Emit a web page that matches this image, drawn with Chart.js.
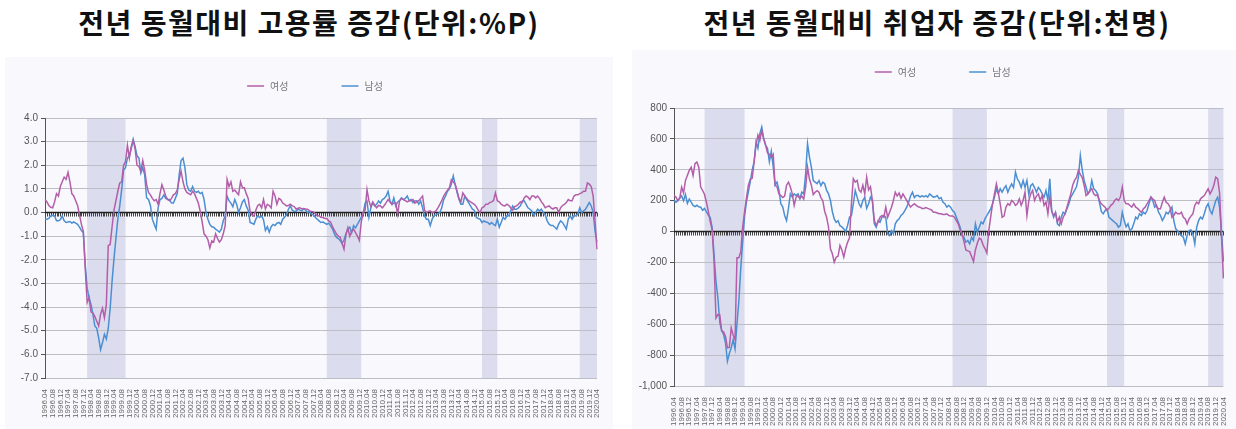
<!DOCTYPE html>
<html>
<head>
<meta charset="utf-8">
<script src="https://cdn.jsdelivr.net/npm/chart.js@4.4.0/dist/chart.umd.min.js"></script>
<style>
  body { margin: 0; width: 1236px; height: 429px; background: #fff; position: relative; overflow: hidden; }
  .title { position: absolute; top: 2px; font-family: "Noto Sans CJK KR", sans-serif; font-weight: bold; font-size: 28px; letter-spacing: 1.5px; color: #111; white-space: nowrap; transform: translateX(-50%); }
  .panel { position: absolute; background: #f9f9fd; }
</style>
</head>
<body>
<div class="title" style="left:309px">전년 동월대비 고용률 증감(단위:%P)</div>
<div class="title" style="left:937px">전년 동월대비 취업자 증감(단위:천명)</div>
<div class="panel" style="left:5px;top:57px;width:608px;height:372px"><canvas id="rateChart"></canvas></div>
<div class="panel" style="left:632px;top:50px;width:604px;height:379px"><canvas id="jobsChart"></canvas></div>
<script>
// months 1996.04 ~ 2020.04
var months = [];
for (var yr = 1996; yr <= 2020; yr++) {
    for (var mo = 1; mo <= 12; mo++) {
        if ((yr == 1996 && mo < 4) || (yr == 2020 && mo > 4)) continue;
        months.push(yr + '.' + (mo < 10 ? '0' + mo : mo));
    }
}
var seriesNames = ['여성', '남성'];

// 고용률 증감 (%P)
var rateWomen = [
    0.55, 0.45, 0.3, 0.22, 0.2, 0.45, 0.8, 0.7, 1.1,
    1.3, 1.5, 1.4, 1.7, 1.3, 0.8, 0.7, 0.5, 0.3, -0.1, -0.5, -0.8,
    -2.4, -3.8, -3.6, -4.2, -4.25, -4.4, -4.6, -4.8, -4.3, -4.05, -4.45, -3.9,
    -1.4, -1.35, -0.6, 0.1, 0.5, 0.9, 1.25, 1.3, 2.0, 2.15, 2.85, 2.3,
    2.8, 3.05, 2.7, 2.0, 1.95, 1.75, 2.2, 1.8, 1.2, 0.85, 0.75, 0.6,
    0.5, 0.55, 0.35, 0.8, 1.18, 0.95, 0.7, 0.55, 0.5, 0.6, 0.75, 0.8,
    0.95, 1.4, 1.75, 1.3, 1.0, 0.85, 0.8, 0.75, 0.9, 0.8, 0.6, 0.4,
    0.05, -0.4, -0.9, -1.0, -1.15, -1.5, -1.2, -1.25, -0.9, -1.1, -1.25, -1.15,
    -0.9, -0.55, 1.4, 1.1, 1.3, 0.9, 0.95, 0.85, 0.75, 1.3, 1.05, 1.05,
    0.8, 0.6, 0.05, -0.1, -0.15, 0.1, 0.3, 0.35, 0.2, 0.55, 0.15, 0.35,
    0.3, 0.2, 0.9, 0.7, 0.35, 0.6, 0.55, 0.4, 0.35, 0.28, 0.3, 0.35,
    0.28, 0.25, 0.15, 0.18, 0.2, 0.15, 0.17, 0.15, 0.14, 0.07, 0.05, 0.03,
    -0.05, -0.14, -0.14, -0.2, -0.21, -0.25, -0.25, -0.35, -0.4, -0.6, -0.75, -0.9,
    -1.0, -1.05, -1.3, -1.55, -0.95, -0.65, -1.0, -0.8, -0.7, -0.85, -1.0, -1.18,
    -0.4, 0.0, 0.1, 0.97, 0.5, 0.25, 0.45, 0.3, 0.2, 0.3, 0.28, 0.2,
    0.3, 0.42, 0.55, 0.45, 0.35, 0.4, 0.4, -0.07, 0.5, 0.6, 0.55, 0.5,
    0.45, 0.5, 0.5, 0.55, 0.4, 0.45, 0.5, 0.6, 0.7, 0.1, 0.0, 0.05,
    0.07, 0.0, 0.03, 0.07, 0.2, 0.35, 0.5, 0.7, 0.83, 0.95, 1.05, 1.39,
    1.3, 1.2, 0.9, 0.6, 0.45, 0.83, 0.7, 0.6, 0.5, 0.45, 0.4, 0.35,
    0.25, 0.1, 0.0, 0.2, 0.25, 0.35, 0.35, 0.42, 0.45, 0.5, 0.83, 0.5,
    0.45, 0.35, 0.3, 0.28, 0.35, 0.3, 0.2, 0.1, 0.25, 0.28, 0.35, 0.45,
    0.42, 0.62, 0.7, 0.65, 0.55, 0.7, 0.7, 0.62, 0.7, 0.6, 0.45, 0.35,
    0.2, 0.25, 0.28, 0.2, 0.15, 0.2, 0.2, 0.0, 0.2, 0.3, 0.35, 0.42,
    0.55, 0.5, 0.5, 0.7, 0.75, 0.75, 0.8, 0.83, 0.9, 0.9, 1.25, 1.2,
    1.1, 0.7, -0.4, -1.55
];
var rateMen = [
    -0.28, -0.28, -0.25, -0.14, -0.12, -0.14, -0.35, -0.35, -0.3,
    -0.15, -0.35, -0.42, -0.4, -0.38, -0.45, -0.4, -0.45, -0.5, -0.62, -0.76, -0.85,
    -2.2, -3.2, -3.6, -3.9, -4.3, -4.8, -4.9, -5.3, -5.8, -5.5, -5.15, -5.35,
    -4.9, -4.05, -2.9, -1.95, -1.1, -0.28, 0.28, 0.97, 1.8, 1.9, 2.3, 2.4,
    2.7, 3.1, 2.8, 2.4, 2.3, 1.67, 1.9, 1.6, 0.62, 0.55, 0.3, -0.28,
    -0.5, -0.7, 0.2, 0.55, 0.6, 0.75, 0.6, 0.55, 0.55, 0.4, 0.4, 0.6,
    0.8, 1.6, 2.2, 2.3, 1.9, 1.18, 0.95, 0.9, 1.1, 0.9, 0.85, 0.9,
    0.8, 0.85, 0.55, 0.0, -0.28, -0.5, -0.6, -0.62, -0.7, -0.76, -0.83, -0.7,
    -0.35, -0.15, 0.7, 0.5, 0.4, 0.25, 0.55, 0.35, 0.0, 0.2, 0.45, 0.55,
    0.28, 0.1, -0.42, -0.45, -0.5, -0.28, -0.14, -0.2, -0.14, -0.3, -0.76, -0.6,
    -0.83, -0.6, -0.5, -0.55, -0.45, -0.42, -0.5, -0.28, -0.2, -0.1, 0.14, 0.28,
    0.1, 0.05, 0.05, 0.14, 0.1, 0.07, 0.16, 0.1, 0.0, 0.05, -0.07, -0.1,
    -0.2, -0.28, -0.35, -0.42, -0.4, -0.45, -0.5, -0.45, -0.55, -0.7, -0.9, -1.04,
    -1.1, -1.18, -1.32, -1.15, -0.9, -0.7, -0.62, -0.85, -0.55, -0.65, -0.5, -0.35,
    -0.2, -0.05, 0.4, 0.49, -0.2, 0.2, 0.42, 0.28, 0.35, 0.49, 0.4, 0.55,
    0.6, 0.7, 0.9, 0.49, 0.35, 0.62, 0.28, 0.45, 0.5, 0.62, 0.55, 0.6,
    0.7, 0.5, 0.55, 0.42, 0.49, 0.5, 0.35, 0.49, 0.2, -0.14, -0.28, -0.28,
    -0.55, -0.28, -0.14, -0.1, -0.05, 0.0, 0.2, 0.55, 0.7, 0.9, 1.0, 1.2,
    1.55, 1.18, 0.85, 0.55, 0.35, 0.35, 0.7, 0.55, 0.42, 0.28, 0.14, 0.1,
    -0.2, -0.25, -0.28, -0.42, -0.35, -0.4, -0.42, -0.5, -0.42, -0.5, -0.55, -0.28,
    -0.62, -0.42, -0.2, -0.28, -0.14, -0.14, 0.07, 0.28, 0.14, 0.14, 0.2, 0.28,
    0.49, 0.5, 0.35, 0.2, 0.14, 0.07, -0.14, 0.0, 0.14, 0.07, 0.14, 0.0,
    -0.1, -0.35, -0.49, -0.55, -0.55, -0.62, -0.7, -0.49, -0.35, -0.42, -0.55, -0.7,
    -0.28, -0.14, -0.28, -0.14, -0.14, -0.07, 0.2, 0.0, 0.07, 0.14, 0.28, 0.42,
    0.28, 0.0, -0.8, -1.25
];

// 취업자 증감 (천명)
var jobsWomen = [
    233, 223, 201, 215, 288, 250, 330, 363, 396,
    417, 363, 440, 450, 417, 288, 266, 240, 190, 130, 65, 10,
    -194, -560, -538, -540, -645, -650, -680, -753, -750, -624, -670, -700,
    -170, -170, -130, 30, 130, 220, 300, 340, 345, 452, 560, 624,
    590, 656, 600, 560, 510, 500, 480, 500, 300, 290, 244, 233,
    220, 230, 300, 320, 288, 244, 169, 223, 233, 215, 230, 210,
    288, 417, 340, 300, 240, 255, 265, 255, 220, 200, 130, 93,
    28, -112, -144, -198, -166, -160, -90, -120, -166, -110, -70, -40,
    180, 342, 320, 331, 270, 255, 300, 244, 352, 270, 290, 200,
    71, 40, 60, 93, 104, 93, 158, 93, 125, 158, 201, 255,
    230, 250, 215, 244, 223, 201, 180, 158, 170, 180, 170, 160,
    158, 150, 150, 155, 150, 145, 140, 125, 125, 120, 115, 115,
    110, 110, 115, 105, 100, 100, 93, 70, 50, 10, -15, -65,
    -119, -125, -130, -162, -195, -119, -76, -43, -50, -86, -110, -140,
    6, 93, 180, 244, 309, 250, 180, 93, 100, 158, 180, 170,
    201, 190, 170, 180, 212, 170, 201, 255, 104, 200, 244, 266,
    201, 230, 244, 201, 235, 169, 190, 115, 223, 130, 104, 120,
    61, 93, 50, 93, 115, 158, 201, 244, 300, 331, 350, 396,
    370, 350, 300, 233, 245, 266, 277, 244, 233, 240, 201, 180,
    169, 158, 136, 150, 170, 180, 201, 212, 201, 223, 288, 201,
    180, 180, 169, 158, 180, 158, 150, 136, 125, 147, 158, 180,
    201, 223, 210, 201, 158, 147, 147, 190, 223, 190, 180, 158,
    93, 104, 125, 115, 115, 125, 93, 82, 50, 82, 100, 115,
    169, 190, 180, 212, 223, 233, 255, 277, 244, 266, 300, 352,
    341, 250, -30, -303
];
var jobsMen = [
    200, 190, 200, 219, 231, 200, 240, 183, 210,
    190, 169, 161, 170, 160, 158, 138, 150, 128, 107, 90, 25,
    -151, -323, -430, -590, -640, -667, -720, -839, -790, -753, -699, -760,
    -600, -450, -237, -65, 100, 194, 258, 323, 400, 452, 581, 540,
    634, 677, 602, 560, 540, 452, 520, 420, 300, 320, 270, 180,
    160, 104, 71, 150, 244, 223, 244, 233, 244, 212, 255, 244,
    374, 569, 482, 417, 330, 320, 310, 330, 297, 320, 310, 266,
    244, 201, 130, 82, 60, 70, 38, 30, 17, 0, 40, 93,
    104, 180, 266, 223, 180, 158, 201, 223, 150, 180, 223, 201,
    50, 28, 71, 60, 93, 104, 93, -15, -26, 6, -15, 50,
    71, 82, 104, 115, 136, 158, 190, 230, 255, 220, 233, 233,
    223, 233, 225, 233, 223, 244, 233, 223, 225, 233, 212, 220,
    190, 180, 158, 169, 158, 136, 125, 93, 61, 28, -26, -37,
    -69, -58, -80, -37, -58, 50, -4, 28, 61, 50, 82, 104,
    125, 147, 180, 223, 277, 244, 277, 255, 280, 297, 255, 285,
    309, 285, 385, 340, 320, 285, 330, 285, 330, 240, 297, 309,
    285, 255, 285, 270, 244, 223, 266, 201, 342, 136, 93, 125,
    50, 39, 93, 125, 115, 147, 180, 223, 244, 266, 290, 350,
    493, 400, 331, 288, 244, 260, 331, 277, 266, 244, 190, 130,
    115, 136, 147, 93, 82, 71, 60, 50, 28, 40, 125, 71,
    30, 50, 6, 17, 50, 93, 82, 115, 104, 125, 115, 136,
    180, 223, 200, 158, 170, 125, 104, 71, 93, 125, 115, 136,
    158, 71, 17, 6, -15, -26, -37, -80, -26, 6, 10, -15,
    -80, 28, 71, 93, 82, 115, 158, 180, 136, 115, 158, 201,
    223, 158, 0, -195
];

// shaded periods (start, end)
var rateBands = [['1998.02', '1999.10'], ['2008.07', '2010.01'], ['2015.04', '2015.12'], ['2019.07', '2020.04']];
var jobsBands = [['1997.08', '1999.05'], ['2008.06', '2009.12'], ['2015.03', '2015.12'], ['2019.08', '2020.04']];

var womenColor = '#b35ea9';
var menColor = '#4b8fd2';

var shadePlugin = {
    id: 'shade',
    beforeDraw: function(chart, args, opts) {
        var x = chart.scales.x, a = chart.chartArea, ctx = chart.ctx;
        ctx.save();
        ctx.fillStyle = '#dcdcef';
        opts.bands.forEach(function(b) {
            var x1 = x.getPixelForValue(months.indexOf(b[0]));
            var x2 = x.getPixelForValue(months.indexOf(b[1]));
            ctx.fillRect(x1, a.top, x2 - x1, a.bottom - a.top);
        });
        ctx.restore();
    }
};

// zero line with small hatch marks
var zeroPlugin = {
    id: 'zeroLine',
    beforeDatasetsDraw: function(chart) {
        var x = chart.scales.x, y = chart.scales.y, a = chart.chartArea, ctx = chart.ctx;
        var y0 = y.getPixelForValue(0);
        ctx.save();
        ctx.strokeStyle = '#444';
        ctx.lineWidth = 1;
        ctx.beginPath();
        for (var i = 0; i < months.length; i++) {
            var px = Math.round(x.getPixelForValue(i)) + 0.5;
            ctx.moveTo(px, y0);
            ctx.lineTo(px, y0 + 4);
        }
        ctx.stroke();
        ctx.strokeStyle = '#222';
        ctx.lineWidth = 1.6;
        ctx.beginPath();
        ctx.moveTo(a.left, y0);
        ctx.lineTo(a.right, y0);
        ctx.stroke();
        ctx.restore();
    }
};

var legendPlugin = {
    id: 'lineLegend',
    afterDraw: function(chart, args, opts) {
        var ctx = chart.ctx, a = chart.chartArea;
        var ds = chart.data.datasets;
        ctx.save();
        ctx.font = '10px "Noto Sans CJK KR"';
        ctx.textBaseline = 'middle';
        var widths = ds.map(function(d) { return 17 + 6 + ctx.measureText(d.label).width; });
        var total = widths.reduce(function(s, w) { return s + w; }, 0) + opts.gap * (ds.length - 1);
        var lx = (a.left + a.right) / 2 + opts.shift - total / 2;
        ds.forEach(function(d, i) {
            ctx.strokeStyle = d.borderColor;
            ctx.lineWidth = 1.5;
            ctx.beginPath();
            ctx.moveTo(lx, opts.y);
            ctx.lineTo(lx + 17, opts.y);
            ctx.stroke();
            ctx.fillStyle = '#777';
            ctx.fillText(d.label, lx + 23, opts.y);
            lx += widths[i] + opts.gap;
        });
        ctx.restore();
    }
};

function makeChart(id, women, men, bands, cfg) {
    var ctx = document.getElementById(id).getContext('2d');
    return new Chart(ctx, {
        type: 'line',
        data: {
            labels: months,
            datasets: [
                { label: seriesNames[0], data: women, borderColor: womenColor, borderWidth: 1.5, pointRadius: 0, tension: 0 },
                { label: seriesNames[1], data: men, borderColor: menColor, borderWidth: 1.5, pointRadius: 0, tension: 0 }
            ]
        },
        plugins: [shadePlugin, zeroPlugin, legendPlugin],
        options: {
            responsive: true,
            maintainAspectRatio: false,
            animation: false,
            layout: { padding: { top: cfg.top, right: cfg.right, left: 0, bottom: 0 } },
            plugins: {
                legend: { display: false },
                tooltip: { enabled: false },
                shade: { bands: bands },
                lineLegend: { y: cfg.legendY, gap: 53, shift: -6 }
            },
            scales: {
                x: {
                    grid: { display: false },
                    border: { display: false },
                    ticks: {
                        autoSkip: false, minRotation: 90, maxRotation: 90, padding: 3,
                        color: '#666', font: { family: 'Liberation Sans', size: 8 },
                        callback: function(v, i) { return i % 4 === 0 ? months[i] : null; }
                    },
                    afterFit: function(s) { s.height = cfg.xHeight; }
                },
                y: {
                    min: cfg.min, max: cfg.max,
                    grid: { color: '#bdbdc6', tickColor: '#555', tickLength: 4 },
                    border: { color: '#555' },
                    ticks: {
                        stepSize: cfg.step, padding: 3,
                        color: '#555', font: { family: 'Liberation Sans', size: cfg.tickSize },
                        callback: cfg.fmt
                    },
                    afterFit: function(s) { s.width = cfg.yWidth; }
                }
            }
        }
    });
}

makeChart('rateChart', rateWomen, rateMen, rateBands, {
    top: 61, right: 16, xHeight: 51, yWidth: 40, legendY: 29,
    min: -7, max: 4, step: 1, tickSize: 10,
    fmt: function(v) { return v.toFixed(1); }
});
makeChart('jobsChart', jobsWomen, jobsMen, jobsBands, {
    top: 58, right: 9, xHeight: 43, yWidth: 42, legendY: 22,
    min: -1000, max: 800, step: 200, tickSize: 10,
    fmt: function(v) { return v.toLocaleString('en-US'); }
});
</script>
</body>
</html>
